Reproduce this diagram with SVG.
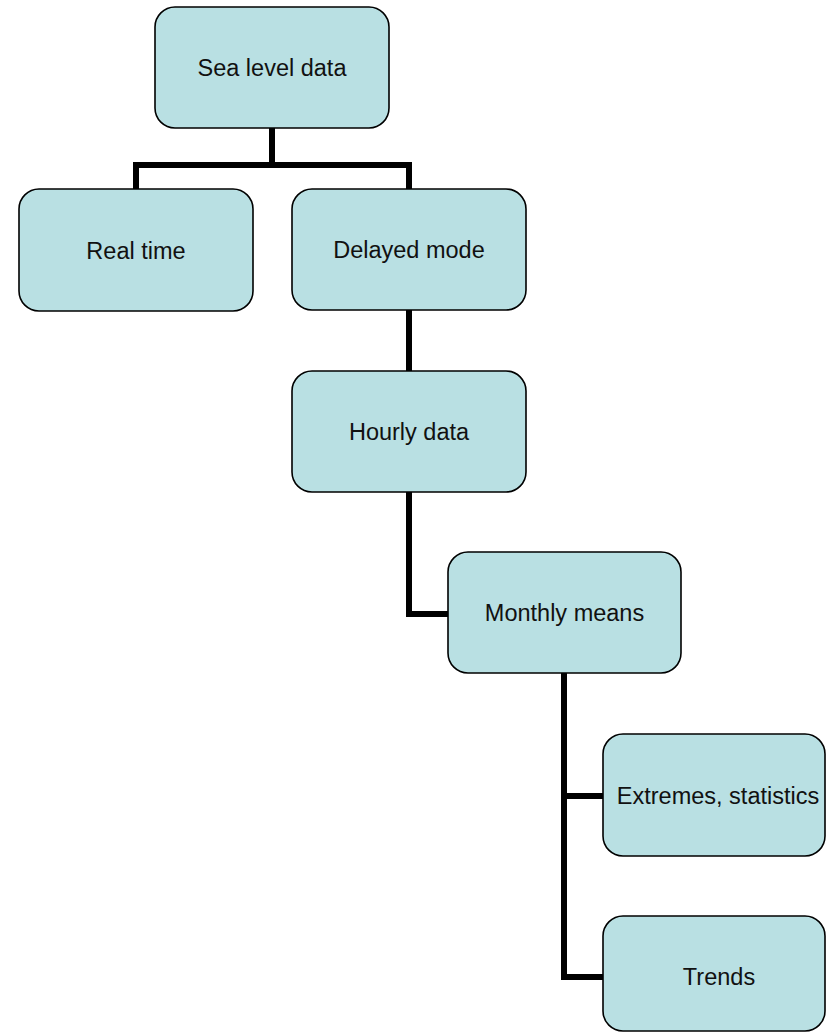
<svg xmlns="http://www.w3.org/2000/svg" width="828" height="1032" viewBox="0 0 828 1032">
<style>
.box{fill:#b9e0e3;stroke:#000;stroke-width:1.6}
.lbl{font-family:"Liberation Sans",Arial,sans-serif;font-size:23.5px;fill:#111;text-anchor:middle}
.conn{fill:none;stroke:#000;stroke-width:6;stroke-linejoin:miter;stroke-linecap:butt}
</style>
<rect width="828" height="1032" fill="#fff"/>
<g id="connectors" class="conn">
<path d="M272 128 V165"/>
<path d="M133 165 H412"/>
<path d="M136 165 V189"/>
<path d="M409 165 V189"/>
<path d="M409 310 V371"/>
<path d="M409 492 V614 H448"/>
<path d="M564 673 V980"/>
<path d="M564 796 H603"/>
<path d="M561 977 H603"/>
</g>
<g id="sea-level-data"><rect class="box" x="155" y="7" width="234" height="121" rx="20"/><text class="lbl" x="272" y="76">Sea level data</text></g>
<g id="real-time"><rect class="box" x="19" y="189" width="234" height="122" rx="20"/><text class="lbl" x="136" y="258.5">Real time</text></g>
<g id="delayed-mode"><rect class="box" x="292" y="189" width="234" height="121" rx="20"/><text class="lbl" x="409" y="258">Delayed mode</text></g>
<g id="hourly-data"><rect class="box" x="292" y="371" width="234" height="121" rx="20"/><text class="lbl" x="409" y="440">Hourly data</text></g>
<g id="monthly-means"><rect class="box" x="448" y="552" width="233" height="121" rx="20"/><text class="lbl" x="564.5" y="621">Monthly means</text></g>
<g id="extremes-statistics"><rect class="box" x="603" y="734" width="222" height="122" rx="20"/><text class="lbl" x="718" y="803.5">Extremes, statistics</text></g>
<g id="trends"><rect class="box" x="603" y="916" width="222" height="115" rx="20"/><text class="lbl" x="719" y="985">Trends</text></g>
</svg>
